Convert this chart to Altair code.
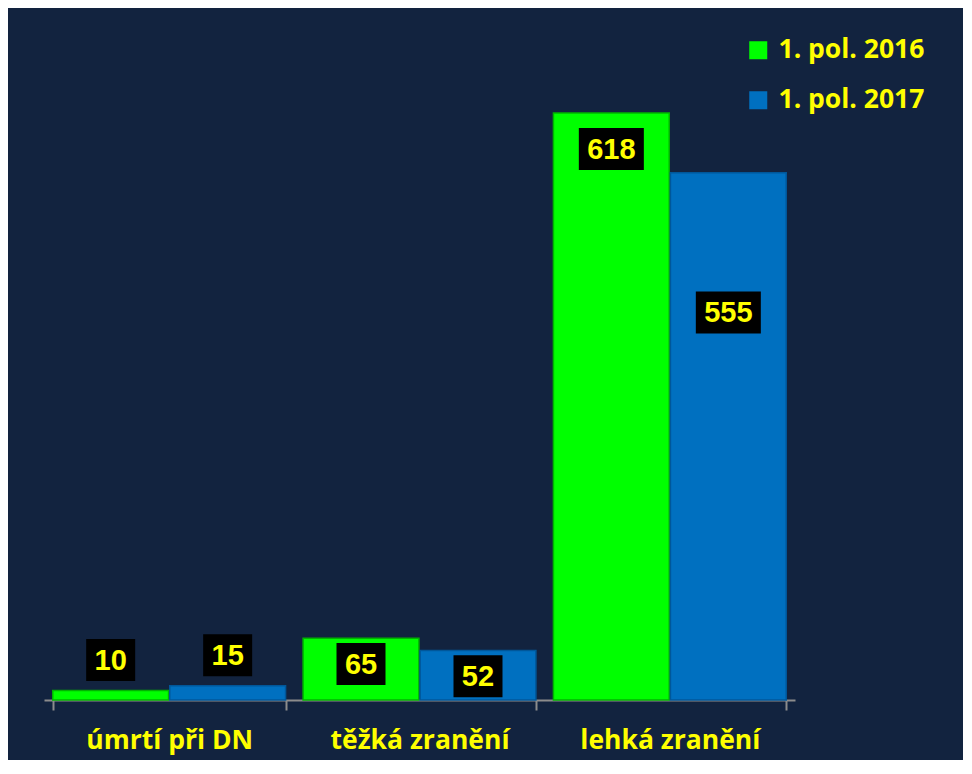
import altair as alt
import pandas as pd

categories = ["úmrtí při DN", "těžká zranění", "lehká zranění"]
series = ["1. pol. 2016", "1. pol. 2017"]
values_2016 = [10, 65, 618]
values_2017 = [15, 52, 555]
colors = ["#00FF00", "#0070C0"]

rows = []
for c, v in zip(categories, values_2016):
    rows.append({"cat": c, "series": series[0], "value": v})
for c, v in zip(categories, values_2017):
    rows.append({"cat": c, "series": series[1], "value": v})
df = pd.DataFrame(rows)

BG = "#12233F"
YEL = "#FFFF00"
LABEL_FONT = "Open Sans"

x_enc = alt.X(
    "cat:N",
    sort=categories,
    title=None,
    scale=alt.Scale(paddingInner=0.07, paddingOuter=0.035),
    axis=alt.Axis(
        labelAngle=0,
        labelLimit=0,
        labelFont=LABEL_FONT,
        labelFontWeight="bold",
        labelFontSize=26.5,
        labelColor=YEL,
        labelBaseline="middle",
        labelPadding=30,
        domainColor="#8c8c8c",
        domainWidth=2,
        tickColor="#8c8c8c",
        tickWidth=2,
        tickSize=10,
        tickBand="extent",
    ),
)
xo_enc = alt.XOffset("series:N", sort=series, scale=alt.Scale(paddingInner=0.01))
y_scale = alt.Scale(domain=[0, 720])

base = alt.Chart(df)

bars = base.mark_bar(strokeWidth=1.5).encode(
    x=x_enc,
    xOffset=xo_enc,
    y=alt.Y("value:Q", scale=y_scale, axis=None),
    color=alt.Color(
        "series:N",
        sort=series,
        scale=alt.Scale(domain=series, range=colors),
        legend=alt.Legend(
            title=None,
            orient="none",
            legendX=701,
            legendY=21,
            padding=0,
            symbolType="square",
            symbolSize=324,
            symbolStrokeWidth=0,
            symbolOpacity=1,
            labelFont=LABEL_FONT,
            labelFontWeight="bold",
            labelFontSize=26.5,
            labelColor=YEL,
            labelOffset=7,
            labelLimit=0,
            rowPadding=23,
        ),
    ),
    stroke=alt.Stroke(
        "series:N",
        sort=series,
        scale=alt.Scale(domain=series, range=["#00B400", "#00579A"]),
        legend=None,
    ),
)

lab_expr = (
    "datum.value < 30 ? datum.value + 32 : "
    "(datum.value < 100 ? datum.value - 27 : "
    "(datum.series == '1. pol. 2016' ? datum.value - 38 : datum.value * 0.735))"
)

box2 = "M-1.1667,-1L1.1667,-1L1.1667,1L-1.1667,1Z"
box3 = "M-1.548,-1L1.548,-1L1.548,1L-1.548,1Z"

boxes = base.transform_calculate(lab=lab_expr).mark_point(
    filled=True, color="black", opacity=1, size=1764, strokeWidth=0
).encode(
    x=alt.X("cat:N", sort=categories),
    xOffset=xo_enc,
    y=alt.Y("lab:Q", scale=y_scale),
    shape=alt.condition("datum.value >= 100", alt.value(box3), alt.value(box2)),
)

texts = base.transform_calculate(lab=lab_expr).mark_text(
    font="Liberation Sans",
    fontWeight="bold",
    fontSize=29,
    color=YEL,
    baseline="middle",
    dy=1,
).encode(
    x=alt.X("cat:N", sort=categories),
    xOffset=xo_enc,
    y=alt.Y("lab:Q", scale=y_scale),
    text=alt.Text("value:Q"),
)

chart = (
    alt.layer(bars, boxes, texts)
    .resolve_scale(shape="independent")
    .properties(
        width=751,
        height=684,
        background=BG,
        padding={"left": 36, "top": 8, "right": 168, "bottom": 60},
        autosize=alt.AutoSizeParams(type="none"),
    )
    .configure_view(stroke=None)
)

chart.save("out.html", embed_options={"renderer": "svg", "actions": False})
